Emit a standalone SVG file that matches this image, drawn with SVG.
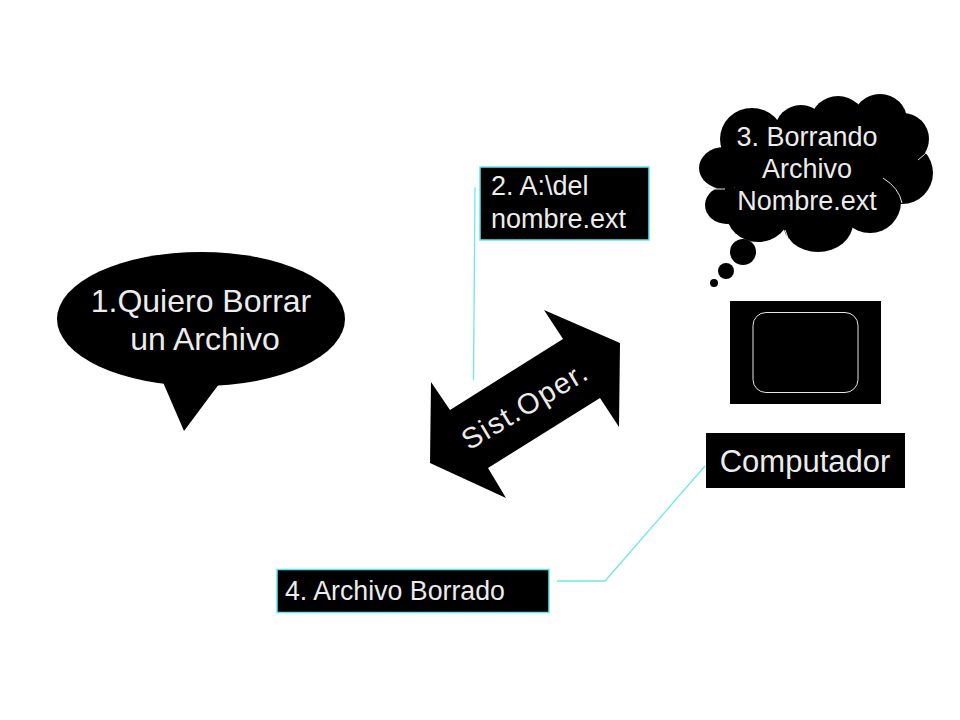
<svg xmlns="http://www.w3.org/2000/svg" width="960" height="720" viewBox="0 0 960 720">
<style>
.k{fill:#000}
.b{fill:#000;stroke:#5fe8ee;stroke-width:1.5}
.c{fill:none;stroke:#6ee8ec;stroke-width:1.3}
.a{fill:none;stroke:#e4e4e4;stroke-width:1}
text{font-family:"Liberation Sans",Arial,sans-serif;fill:#ececec}
.m{text-anchor:middle}
</style>
<rect width="960" height="720" fill="#fff"/>
<g id="connectors">
<path class="c" d="M475 187L473.500 380"/>
<path class="c" d="M557 581H605L705 466"/>
</g>
<g id="speech">
<ellipse class="k" cx="201" cy="319" rx="144" ry="67"/>
<path class="k" d="M162 380L184 431L222 380Z"/>
<text class="m" x="201" y="312" font-size="32">1.Quiero Borrar</text>
<text class="m" x="205" y="350" font-size="32">un Archivo</text>
</g>
<g id="command">
<rect class="b" x="480" y="167" width="169" height="73"/>
<text x="491" y="195" font-size="27">2. A:\del</text>
<text x="491" y="228" font-size="27">nombre.ext</text>
</g>
<g id="sistema">
<path class="k" d="M544 310L620 343L619 427L600 398L488 468L506 498L430 463L431 382L450 410L563 339Z"/>
<text class="m" font-size="29" letter-spacing="1.500" transform="translate(530 414) rotate(-31)">Sist.Oper.</text>
</g>
<g id="thought">
<ellipse class="k" cx="752" cy="139" rx="32" ry="31"/>
<ellipse class="k" cx="801" cy="130" rx="26" ry="25"/>
<ellipse class="k" cx="838" cy="121" rx="27" ry="25"/>
<ellipse class="k" cx="880" cy="120" rx="27" ry="26"/>
<circle class="k" cx="903" cy="139" r="26"/>
<circle class="k" cx="902" cy="173" r="31"/>
<circle class="k" cx="870" cy="202" r="31"/>
<ellipse class="k" cx="818" cy="223" rx="35" ry="29"/>
<ellipse class="k" cx="758" cy="212" rx="32" ry="30"/>
<ellipse class="k" cx="727" cy="205" rx="22" ry="19"/>
<ellipse class="k" cx="724" cy="168" rx="25" ry="21"/>
<path class="k" d="M735 130H900V205H735Z"/>
<path class="a" d="M883 178Q899 188 902 203M705 187Q715 190 725 189M785 230Q787 238 792 243M930 148Q925 155 918 160"/>
<circle class="k" cx="743" cy="252" r="13"/>
<circle class="k" cx="726" cy="271" r="8"/>
<circle class="k" cx="714" cy="283" r="4"/>
<text class="m" x="807" y="146" font-size="27">3. Borrando</text>
<text class="m" x="807" y="178" font-size="27">Archivo</text>
<text class="m" x="807" y="210" font-size="27">Nombre.ext</text>
</g>
<g id="monitor">
<rect class="k" x="730" y="301" width="151" height="103"/>
<rect x="753" y="312.500" width="105" height="80" rx="13" fill="none" stroke="#e4e4e4" stroke-width="1"/>
</g>
<g id="computador">
<rect class="k" x="706" y="433" width="199" height="55"/>
<text class="m" x="805" y="472" font-size="31">Computador</text>
</g>
<g id="borrado">
<rect class="b" x="277" y="569.500" width="272" height="43"/>
<text x="285" y="600" font-size="27" textLength="220" lengthAdjust="spacingAndGlyphs">4. Archivo Borrado</text>
</g>
</svg>
